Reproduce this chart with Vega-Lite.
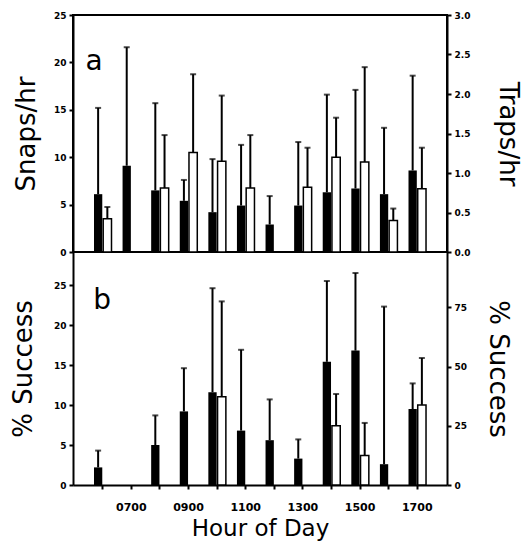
{
  "$schema": "https://vega.github.io/schema/vega-lite/v6.json",
  "padding": {"left": 10, "top": 10, "right": 5, "bottom": 5},
  "spacing": 0,
  "bounds": "flush",
  "config": {
    "view": {"stroke": null},
    "font": "DejaVu Sans",
    "axis": {"domainColor": "black", "domainWidth": 2, "tickColor": "black", "tickWidth": 2, "tickSize": 4, "labelFont": "DejaVu Sans", "labelFontWeight": "bold", "labelFontSize": 9, "labelColor": "black", "labelPadding": 3, "titleFont": "DejaVu Sans", "titleFontWeight": "normal", "titleFontSize": 26, "titleColor": "black", "grid": false}
  },
  "datasets": {
    "d": [
      {"p": "a", "h": "0600", "s": "black", "v": 6.1, "e": 15.2},
      {"p": "a", "h": "0700", "s": "black", "v": 9.1, "e": 21.6},
      {"p": "a", "h": "0800", "s": "black", "v": 6.5, "e": 15.7},
      {"p": "a", "h": "0900", "s": "black", "v": 5.4, "e": 7.6},
      {"p": "a", "h": "1000", "s": "black", "v": 4.2, "e": 9.8},
      {"p": "a", "h": "1100", "s": "black", "v": 4.9, "e": 11.3},
      {"p": "a", "h": "1200", "s": "black", "v": 2.9, "e": 5.9},
      {"p": "a", "h": "1300", "s": "black", "v": 4.9, "e": 11.6},
      {"p": "a", "h": "1400", "s": "black", "v": 6.3, "e": 16.6},
      {"p": "a", "h": "1500", "s": "black", "v": 6.7, "e": 17.1},
      {"p": "a", "h": "1600", "s": "black", "v": 6.1, "e": 13.1},
      {"p": "a", "h": "1700", "s": "black", "v": 8.6, "e": 18.6},
      {"p": "a", "h": "0600", "s": "white", "v": 0.42, "e": 0.57},
      {"p": "a", "h": "0800", "s": "white", "v": 0.81, "e": 1.48},
      {"p": "a", "h": "0900", "s": "white", "v": 1.26, "e": 2.25},
      {"p": "a", "h": "1000", "s": "white", "v": 1.15, "e": 1.98},
      {"p": "a", "h": "1100", "s": "white", "v": 0.81, "e": 1.48},
      {"p": "a", "h": "1300", "s": "white", "v": 0.82, "e": 1.32},
      {"p": "a", "h": "1400", "s": "white", "v": 1.2, "e": 1.7},
      {"p": "a", "h": "1500", "s": "white", "v": 1.14, "e": 2.34},
      {"p": "a", "h": "1600", "s": "white", "v": 0.4, "e": 0.55},
      {"p": "a", "h": "1700", "s": "white", "v": 0.8, "e": 1.32},
      {"p": "b", "h": "0600", "s": "black", "v": 2.2, "e": 4.3},
      {"p": "b", "h": "0800", "s": "black", "v": 5.0, "e": 8.7},
      {"p": "b", "h": "0900", "s": "black", "v": 9.2, "e": 14.6},
      {"p": "b", "h": "1000", "s": "black", "v": 11.6, "e": 24.6},
      {"p": "b", "h": "1100", "s": "black", "v": 6.8, "e": 16.9},
      {"p": "b", "h": "1200", "s": "black", "v": 5.6, "e": 10.7},
      {"p": "b", "h": "1300", "s": "black", "v": 3.3, "e": 5.7},
      {"p": "b", "h": "1400", "s": "black", "v": 15.4, "e": 25.5},
      {"p": "b", "h": "1500", "s": "black", "v": 16.8, "e": 26.5},
      {"p": "b", "h": "1600", "s": "black", "v": 2.6, "e": 22.3},
      {"p": "b", "h": "1700", "s": "black", "v": 9.5, "e": 12.7},
      {"p": "b", "h": "1000", "s": "white", "v": 37.2, "e": 77.5},
      {"p": "b", "h": "1400", "s": "white", "v": 25.0, "e": 38.4},
      {"p": "b", "h": "1500", "s": "white", "v": 12.4, "e": 26.2},
      {"p": "b", "h": "1700", "s": "white", "v": 33.8, "e": 53.6}
    ]
  },
  "vconcat": [
    {
      "width": 374,
      "height": 237,
      "view": {"stroke": "black", "strokeWidth": 2},
      "data": {"name": "d"},
      "transform": [{"filter": "datum.p == 'a'"}],
      "encoding": {
        "x": {"field": "h", "type": "ordinal", "scale": {"domain": ["0600","0700","0800","0900","1000","1100","1200","1300","1400","1500","1600","1700"], "paddingInner": 0, "paddingOuter": 0.54}, "axis": null},
        "xOffset": {"field": "s", "type": "nominal", "scale": {"domain": ["black", "white"], "paddingInner": 0.1, "paddingOuter": 0.6}}
      },
      "layer": [
        {
          "transform": [{"filter": "datum.s == 'black'"}],
          "encoding": {"y": {"field": "v", "type": "quantitative", "scale": {"domain": [0, 25], "nice": false}, "axis": {"values": [0, 5, 10, 15, 20, 25], "title": "Snaps/hr", "titlePadding": 14}}},
          "layer": [
            {"mark": {"type": "bar", "color": "black"}},
            {"mark": {"type": "rule", "color": "black", "strokeWidth": 2}, "encoding": {"y2": {"field": "e"}}},
            {"mark": {"type": "tick", "color": "black", "size": 6, "thickness": 2}, "encoding": {"y": {"field": "e", "type": "quantitative"}}}
          ]
        },
        {
          "transform": [{"filter": "datum.s == 'white'"}],
          "encoding": {"y": {"field": "v", "type": "quantitative", "scale": {"domain": [0, 3], "nice": false}, "axis": {"orient": "right", "values": [0, 0.5, 1, 1.5, 2, 2.5, 3], "format": ".1f", "title": "Traps/hr", "titlePadding": 25}}},
          "layer": [
            {"mark": {"type": "bar", "fill": "white", "stroke": "black", "strokeWidth": 1.5}},
            {"mark": {"type": "rule", "color": "black", "strokeWidth": 2}, "encoding": {"y2": {"field": "e"}}},
            {"mark": {"type": "tick", "color": "black", "size": 6, "thickness": 2}, "encoding": {"y": {"field": "e", "type": "quantitative"}}}
          ]
        },
        {
          "data": {"values": [{"p": "a", "s": "black", "t": "a"}]},
          "mark": {"type": "text", "fontSize": 28, "font": "DejaVu Sans", "baseline": "middle", "align": "center", "dx": -4},
          "encoding": {"x": {"datum": "0600"}, "xOffset": {"datum": "black"}, "y": {"datum": 20, "type": "quantitative", "scale": {"domain": [0, 25], "nice": false}, "axis": null}, "text": {"field": "t"}}
        }
      ],
      "resolve": {"scale": {"y": "independent"}}
    },
    {
      "width": 374,
      "height": 233,
      "data": {"name": "d"},
      "transform": [{"filter": "datum.p == 'b'"}],
      "encoding": {
        "x": {"field": "h", "type": "ordinal", "scale": {"domain": ["0600","0700","0800","0900","1000","1100","1200","1300","1400","1500","1600","1700"], "paddingInner": 0, "paddingOuter": 0.54}, "axis": {"labelExpr": "indexof(['0700','0900','1100','1300','1500','1700'], datum.value) >= 0 ? datum.value : ''", "labelAngle": 0, "labelFontSize": 11, "labelPadding": 12, "title": "Hour of Day", "titleFontSize": 23, "titlePadding": 5}},
        "xOffset": {"field": "s", "type": "nominal", "scale": {"domain": ["black", "white"], "paddingInner": 0.1, "paddingOuter": 0.6}}
      },
      "layer": [
        {
          "transform": [{"filter": "datum.s == 'black'"}],
          "encoding": {"y": {"field": "v", "type": "quantitative", "scale": {"domain": [0, 29.125], "nice": false}, "axis": {"values": [0, 5, 10, 15, 20, 25], "title": "% Success", "titlePadding": 17}}},
          "layer": [
            {"mark": {"type": "bar", "color": "black"}},
            {"mark": {"type": "rule", "color": "black", "strokeWidth": 2}, "encoding": {"y2": {"field": "e"}}},
            {"mark": {"type": "tick", "color": "black", "size": 6, "thickness": 2}, "encoding": {"y": {"field": "e", "type": "quantitative"}}}
          ]
        },
        {
          "transform": [{"filter": "datum.s == 'white'"}],
          "encoding": {"y": {"field": "v", "type": "quantitative", "scale": {"domain": [0, 98.35], "nice": false}, "axis": {"orient": "right", "values": [0, 25, 50, 75], "title": "% Success", "titlePadding": 18}}},
          "layer": [
            {"mark": {"type": "bar", "fill": "white", "stroke": "black", "strokeWidth": 1.5}},
            {"mark": {"type": "rule", "color": "black", "strokeWidth": 2}, "encoding": {"y2": {"field": "e"}}},
            {"mark": {"type": "tick", "color": "black", "size": 6, "thickness": 2}, "encoding": {"y": {"field": "e", "type": "quantitative"}}}
          ]
        },
        {
          "data": {"values": [{"p": "b", "s": "black", "t": "b"}]},
          "mark": {"type": "text", "fontSize": 28, "font": "DejaVu Sans", "baseline": "middle", "align": "center", "dx": 4},
          "encoding": {"x": {"datum": "0600"}, "xOffset": {"datum": "black"}, "y": {"datum": 23, "type": "quantitative", "scale": {"domain": [0, 29.125], "nice": false}, "axis": null}, "text": {"field": "t"}}
        }
      ],
      "resolve": {"scale": {"y": "independent"}}
    }
  ]
}
